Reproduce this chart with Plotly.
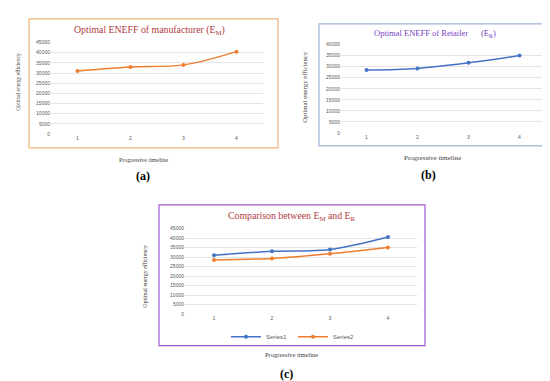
import plotly.graph_objects as go

timeline = ["1", "2", "3", "4"]
manufacturer_eneff = [31000, 33000, 34000, 40500]
retailer_eneff = [28500, 29200, 31700, 35000]
series1 = [31000, 33000, 34000, 40500]
series2 = [28500, 29300, 31700, 35000]
ticks_45 = [0, 5000, 10000, 15000, 20000, 25000, 30000, 35000, 40000, 45000]
ticks_40 = [0, 5000, 10000, 15000, 20000, 25000, 30000, 35000, 40000]

W, H = 550, 381
BLUE = "#4472C4"
ORANGE = "#ED7D31"
GRID = "#E4E4E4"
TICKFONT = dict(family="Liberation Sans", size=5, color="#595959")
SERIF = "Liberation Serif"

def px(x):
    return x / W

def py(y):
    return 1 - y / H

fig = go.Figure()

# (a)
fig.add_trace(go.Scatter(x=timeline, y=manufacturer_eneff, mode="lines+markers",
                         line=dict(color=ORANGE, width=1.5), marker=dict(size=4, color=ORANGE),
                         xaxis="x", yaxis="y", showlegend=False, line_shape="spline"))
# (b)
fig.add_trace(go.Scatter(x=timeline, y=retailer_eneff, mode="lines+markers",
                         line=dict(color=BLUE, width=1.5), marker=dict(size=4, color=BLUE),
                         xaxis="x2", yaxis="y2", showlegend=False, line_shape="spline"))
# (c)
fig.add_trace(go.Scatter(x=timeline, y=series1, mode="lines+markers", name="Series1",
                         line=dict(color=BLUE, width=1.5), marker=dict(size=4, color=BLUE),
                         xaxis="x3", yaxis="y3", line_shape="spline"))
fig.add_trace(go.Scatter(x=timeline, y=series2, mode="lines+markers", name="Series2",
                         line=dict(color=ORANGE, width=1.5), marker=dict(size=4, color=ORANGE),
                         xaxis="x3", yaxis="y3", line_shape="spline"))

def xax(x0, x1, anchor):
    return dict(domain=[px(x0), px(x1)], anchor=anchor, type="category",
                showgrid=False, zeroline=False, showline=False, ticks="",
                tickfont=TICKFONT, fixedrange=True, range=[-0.5, 3.5])

def yax(y0, y1, anchor, rng, tv):
    return dict(domain=[py(y0), py(y1)], anchor=anchor, range=rng, tickvals=tv,
                ticktext=[str(t) for t in tv], showgrid=True, gridcolor=GRID, gridwidth=1,
                zeroline=False, showline=False, ticks="", tickfont=TICKFONT, fixedrange=True)

fig.update_layout(
    width=W, height=H, margin=dict(l=0, r=0, t=0, b=0),
    paper_bgcolor="white", plot_bgcolor="white",
    xaxis=xax(43, 255, "y"),
    yaxis=yax(125, 32, "x", [0, 45000], ticks_45),
    xaxis2=xax(333, 537, "y2"),
    yaxis2=yax(124, 34, "x2", [0, 40000], ticks_40),
    xaxis3=xax(177, 409, "y3"),
    yaxis3=yax(308, 221, "x3", [0, 45000], ticks_45),
    legend=dict(orientation="h", x=px(285), y=py(331), xanchor="center", yanchor="middle",
                font=dict(family="Liberation Sans", size=6, color="#595959"),
                bgcolor="rgba(0,0,0,0)", itemwidth=30, entrywidth=22,
                entrywidthmode="pixels", tracegroupgap=0),
    showlegend=True,
)

# borders
shapes = [
    dict(type="rect", xref="paper", yref="paper", x0=px(21), x1=px(270), y0=py(139), y1=py(8),
         line=dict(color="#F0B27A", width=1.2)),
    dict(type="rect", xref="paper", yref="paper", x0=px(311), x1=px(543), y0=py(137), y1=py(13),
         line=dict(color="#9DB3D6", width=1.2)),
    dict(type="rect", xref="paper", yref="paper", x0=px(151), x1=px(417), y0=py(340), y1=py(197),
         line=dict(color="#9B59D0", width=1.2)),
]
fig.update_layout(shapes=shapes)

def ann(text, x, y, size, color="#404040", family=SERIF, angle=0):
    return dict(text=text, x=px(x), y=py(y), xref="paper", yref="paper", showarrow=False,
                xanchor="center", yanchor="middle", textangle=angle,
                font=dict(family=family, size=size, color=color))

annotations = [
    ann("Optimal ENEFF of manufacturer (E<sub>M</sub>)", 141, 19, 9.8, "#B03A3A"),
    ann("Optimal ENEFF of Retailer      (E<sub>R</sub>)", 427, 23, 8.5, "#7A3FC4"),
    ann("Comparison between E<sub>M</sub> and E<sub>R</sub>", 284, 208, 9.8, "#B03A3A"),
    ann("Optimal energy efficiency", 10, 72, 5.5, angle=-90),
    ann("Optimal energy efficiency", 297, 77, 6.8, angle=-90),
    ann("Optimal energy efficiency", 137, 270, 6, angle=-90),
    ann("Progressive timeline", 135, 151, 6),
    ann("Progressive timeline", 424, 149, 7),
    ann("Progressive timeline", 283, 349, 6.5),
    ann("<b>(a)</b>", 135, 168, 12, "#000000"),
    ann("<b>(b)</b>", 420, 167, 12, "#000000"),
    ann("<b>(c)</b>", 278, 369, 12, "#000000"),
]
fig.update_layout(annotations=annotations)

fig.write_html("out.html")
